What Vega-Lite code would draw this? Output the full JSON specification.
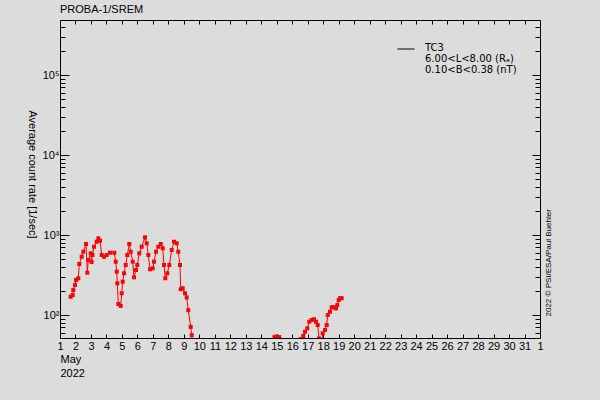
{
  "$schema": "https://vega.github.io/schema/vega-lite/v6.json",
  "width": 480,
  "height": 318,
  "autosize": "none",
  "padding": {"left": 60, "top": 20, "right": 60, "bottom": 62},
  "background": "#dcdcdc",
  "title": {
    "text": "PROBA-1/SREM",
    "anchor": "start",
    "frame": "group",
    "offset": 5,
    "font": "Liberation Sans",
    "fontSize": 11,
    "fontWeight": "normal",
    "color": "black"
  },
  "config": {
    "view": {"stroke": null},
    "font": "Liberation Sans",
    "axis": {
      "domainColor": "black",
      "tickColor": "black",
      "labelColor": "black",
      "titleColor": "black",
      "labelFont": "Liberation Sans",
      "titleFont": "Liberation Sans",
      "labelFontSize": 11,
      "titleFontSize": 11,
      "titleFontWeight": "normal",
      "grid": false,
      "labelOverlap": false,
      "labelBound": false,
      "labelFlush": false
    },
    "legend": {
      "orient": "none",
      "legendX": 337,
      "legendY": 20,
      "padding": 0,
      "symbolType": "stroke",
      "symbolSize": 289,
      "symbolStrokeWidth": 1,
      "labelFont": "DejaVu Sans",
      "labelFontSize": 10,
      "labelColor": "black",
      "labelOffset": 10,
      "labelLimit": 300
    }
  },
  "data": {
    "values": [
      {"day": 1.691, "rate": 169, "seg": 1},
      {"day": 1.820, "rate": 178, "seg": 1},
      {"day": 1.859, "rate": 205, "seg": 1},
      {"day": 1.969, "rate": 237, "seg": 1},
      {"day": 2.033, "rate": 274, "seg": 1},
      {"day": 2.182, "rate": 288, "seg": 1},
      {"day": 2.246, "rate": 434, "seg": 1},
      {"day": 2.401, "rate": 535, "seg": 1},
      {"day": 2.505, "rate": 618, "seg": 1},
      {"day": 2.679, "rate": 772, "seg": 1},
      {"day": 2.763, "rate": 338, "seg": 1},
      {"day": 2.828, "rate": 487, "seg": 1},
      {"day": 2.983, "rate": 590, "seg": 1},
      {"day": 3.040, "rate": 459, "seg": 1},
      {"day": 3.096, "rate": 562, "seg": 1},
      {"day": 3.196, "rate": 714, "seg": 1},
      {"day": 3.370, "rate": 824, "seg": 1},
      {"day": 3.474, "rate": 910, "seg": 1},
      {"day": 3.583, "rate": 849, "seg": 1},
      {"day": 3.693, "rate": 562, "seg": 1},
      {"day": 3.842, "rate": 535, "seg": 1},
      {"day": 4.016, "rate": 562, "seg": 1},
      {"day": 4.229, "rate": 601, "seg": 1},
      {"day": 4.507, "rate": 601, "seg": 1},
      {"day": 4.597, "rate": 464, "seg": 1},
      {"day": 4.662, "rate": 348, "seg": 1},
      {"day": 4.701, "rate": 249, "seg": 1},
      {"day": 4.765, "rate": 137, "seg": 1},
      {"day": 4.920, "rate": 130, "seg": 1},
      {"day": 4.985, "rate": 187, "seg": 1},
      {"day": 5.049, "rate": 261, "seg": 1},
      {"day": 5.133, "rate": 332, "seg": 1},
      {"day": 5.243, "rate": 422, "seg": 1},
      {"day": 5.346, "rate": 562, "seg": 1},
      {"day": 5.476, "rate": 772, "seg": 1},
      {"day": 5.566, "rate": 618, "seg": 1},
      {"day": 5.695, "rate": 464, "seg": 1},
      {"day": 5.779, "rate": 296, "seg": 1},
      {"day": 5.908, "rate": 365, "seg": 1},
      {"day": 5.992, "rate": 422, "seg": 1},
      {"day": 6.121, "rate": 590, "seg": 1},
      {"day": 6.277, "rate": 714, "seg": 1},
      {"day": 6.490, "rate": 936, "seg": 1},
      {"day": 6.600, "rate": 787, "seg": 1},
      {"day": 6.703, "rate": 562, "seg": 1},
      {"day": 6.812, "rate": 373, "seg": 1},
      {"day": 6.987, "rate": 383, "seg": 1},
      {"day": 7.071, "rate": 464, "seg": 1},
      {"day": 7.200, "rate": 618, "seg": 1},
      {"day": 7.349, "rate": 714, "seg": 1},
      {"day": 7.504, "rate": 772, "seg": 1},
      {"day": 7.633, "rate": 682, "seg": 1},
      {"day": 7.717, "rate": 422, "seg": 1},
      {"day": 7.801, "rate": 288, "seg": 1},
      {"day": 7.930, "rate": 332, "seg": 1},
      {"day": 8.059, "rate": 422, "seg": 1},
      {"day": 8.214, "rate": 649, "seg": 1},
      {"day": 8.362, "rate": 824, "seg": 1},
      {"day": 8.537, "rate": 787, "seg": 1},
      {"day": 8.640, "rate": 618, "seg": 1},
      {"day": 8.750, "rate": 422, "seg": 1},
      {"day": 8.795, "rate": 210, "seg": 1},
      {"day": 8.924, "rate": 216, "seg": 1},
      {"day": 9.073, "rate": 187, "seg": 1},
      {"day": 9.183, "rate": 166, "seg": 1},
      {"day": 9.286, "rate": 115, "seg": 1},
      {"day": 9.441, "rate": 71, "seg": 1},
      {"day": 9.506, "rate": 56, "seg": 1},
      {"day": 9.600, "rate": 30, "seg": 1},
      {"day": 14.70, "rate": 30, "seg": 2},
      {"day": 14.85, "rate": 53, "seg": 2},
      {"day": 15.00, "rate": 54, "seg": 2},
      {"day": 15.16, "rate": 53, "seg": 2},
      {"day": 15.30, "rate": 30, "seg": 2},
      {"day": 16.45, "rate": 30, "seg": 3},
      {"day": 16.545, "rate": 50, "seg": 3},
      {"day": 16.713, "rate": 54.7, "seg": 3},
      {"day": 16.823, "rate": 61.8, "seg": 3},
      {"day": 16.971, "rate": 68.2, "seg": 3},
      {"day": 17.100, "rate": 82.5, "seg": 3},
      {"day": 17.255, "rate": 86.6, "seg": 3},
      {"day": 17.404, "rate": 88.4, "seg": 3},
      {"day": 17.533, "rate": 82.5, "seg": 3},
      {"day": 17.643, "rate": 75, "seg": 3},
      {"day": 17.727, "rate": 51, "seg": 3},
      {"day": 17.800, "rate": 30, "seg": 3},
      {"day": 17.900, "rate": 40, "seg": 3},
      {"day": 17.966, "rate": 59, "seg": 3},
      {"day": 18.114, "rate": 65, "seg": 3},
      {"day": 18.224, "rate": 75, "seg": 3},
      {"day": 18.289, "rate": 100, "seg": 3},
      {"day": 18.438, "rate": 110, "seg": 3},
      {"day": 18.547, "rate": 125, "seg": 3},
      {"day": 18.696, "rate": 125, "seg": 3},
      {"day": 18.825, "rate": 121, "seg": 3},
      {"day": 18.909, "rate": 133, "seg": 3},
      {"day": 19.000, "rate": 154, "seg": 3},
      {"day": 19.083, "rate": 162, "seg": 3},
      {"day": 19.193, "rate": 162, "seg": 3}
    ]
  },
  "resolve": {"axis": {"x": "independent", "y": "independent"}},
  "layer": [
    {
      "mark": {"type": "line", "clip": true, "strokeWidth": 1, "color": "red"},
      "encoding": {
        "x": {
          "field": "day",
          "type": "quantitative",
          "scale": {"domain": [1, 32], "nice": false, "zero": false},
          "axis": {
            "orient": "bottom",
            "values": [1,2,3,4,5,6,7,8,9,10,11,12,13,14,15,16,17,18,19,20,21,22,23,24,25,26,27,28,29,30,31,32],
            "labelExpr": "datum.value > 31 ? '1' : datum.label",
            "tickSize": -4,
            "labelPadding": 6,
            "title": ["May", "2022"],
            "titleAnchor": "start",
            "titleAlign": "left",
            "titleBaseline": "top",
            "titleX": 0,
            "titleY": 15,
            "titleLineHeight": 14
          }
        },
        "y": {
          "field": "rate",
          "type": "quantitative",
          "scale": {"type": "log", "domain": [51.6, 487000], "nice": false},
          "axis": {
            "orient": "left",
            "values": [60,70,80,90,100,200,300,400,500,600,700,800,900,1000,2000,3000,4000,5000,6000,7000,8000,9000,10000,20000,30000,40000,50000,60000,70000,80000,90000,100000,200000,300000,400000],
            "labelExpr": "datum.value == 100 ? '10²' : datum.value == 1000 ? '10³' : datum.value == 10000 ? '10⁴' : datum.value == 100000 ? '10⁵' : ''",
            "tickSize": {"condition": {"test": "indexof([100,1000,10000,100000], datum.value) >= 0", "value": -9}, "value": -5},
            "labelPadding": 10,
            "title": "Average count rate [1/sec]",
            "titleAngle": 90,
            "titleAlign": "center",
            "titleBaseline": "middle",
            "titleX": -29,
            "titleY": 154
          }
        },
        "detail": {"field": "seg"}
      }
    },
    {
      "mark": {"type": "square", "clip": true, "size": 16, "color": "red", "opacity": 1, "filled": true},
      "encoding": {
        "x": {
          "field": "day",
          "type": "quantitative",
          "axis": {
            "orient": "top",
            "values": [1,2,3,4,5,6,7,8,9,10,11,12,13,14,15,16,17,18,19,20,21,22,23,24,25,26,27,28,29,30,31,32],
            "labels": false,
            "tickSize": -4,
            "title": null
          }
        },
        "y": {
          "field": "rate",
          "type": "quantitative",
          "axis": {
            "orient": "right",
            "values": [60,70,80,90,100,200,300,400,500,600,700,800,900,1000,2000,3000,4000,5000,6000,7000,8000,9000,10000,20000,30000,40000,50000,60000,70000,80000,90000,100000,200000,300000,400000],
            "labels": false,
            "tickSize": {"condition": {"test": "indexof([100,1000,10000,100000], datum.value) >= 0", "value": -8}, "value": -5},
            "title": "2022 © PSI/ESA/Paul Buehler",
            "titleFontSize": 8,
            "titleAngle": 270,
            "titleAlign": "left",
            "titleBaseline": "middle",
            "titleX": 8,
            "titleY": 296
          }
        }
      }
    },
    {
      "transform": [{"filter": "datum.day < 0"}],
      "mark": {"type": "line", "clip": true},
      "encoding": {
        "x": {"field": "day", "type": "quantitative", "axis": null},
        "y": {"field": "rate", "type": "quantitative", "axis": null},
        "stroke": {
          "datum": "TC3",
          "scale": {"domain": ["TC3"], "range": ["black"]},
          "legend": {
            "title": null,
            "labelExpr": "['TC3', '6.00<L<8.00 (Rₑ)', '0.10<B<0.38 (nT)']",
            "encode": {
              "labels": {"update": {"baseline": {"value": "top"}, "lineHeight": {"value": 11}, "dy": {"value": -6}}}
            }
          }
        }
      }
    }
  ]
}
